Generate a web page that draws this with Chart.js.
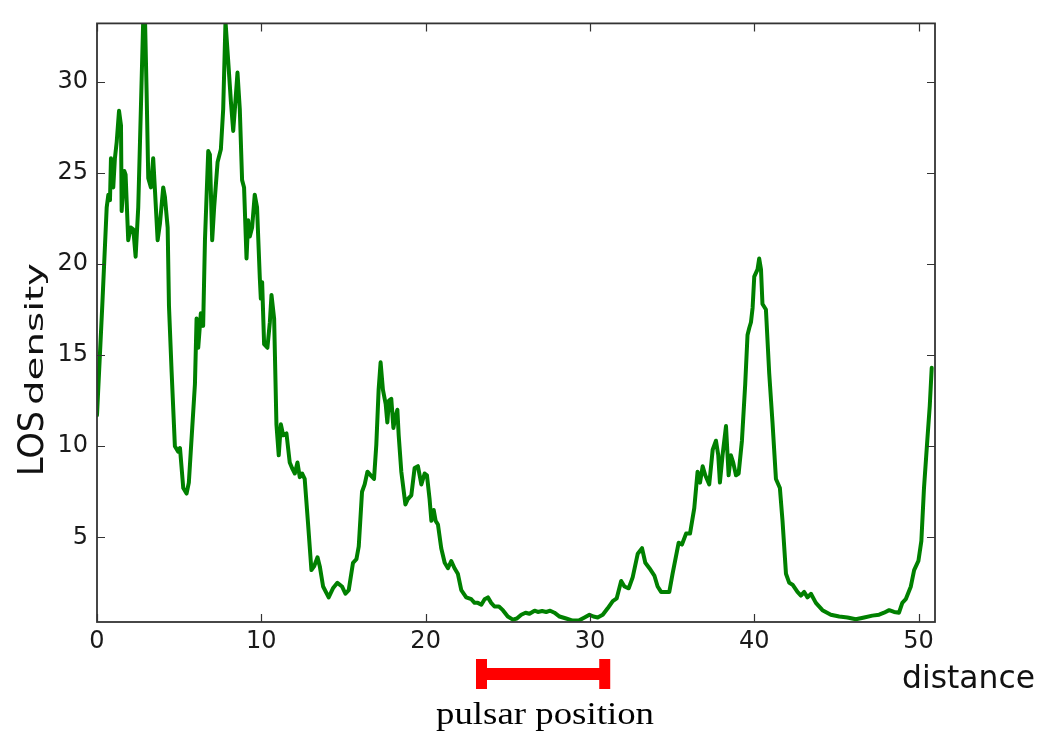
<!DOCTYPE html>
<html>
<head>
<meta charset="utf-8">
<script src="https://cdn.jsdelivr.net/npm/chart.js@4"></script>
<style>
  html, body { margin: 0; padding: 0; background: #ffffff; }
  canvas { display: block; }
</style>
</head>
<body>
<canvas id="c" width="1037" height="733"></canvas>
<script>
// ---- data ----
const distance = [
  0.0, 0.32, 0.59, 0.69, 0.79, 0.85, 0.93, 0.99, 1.09, 1.20, 1.34, 1.46, 1.50, 1.66, 1.74, 1.90,
  2.05, 2.21, 2.35, 2.51, 2.67, 2.81, 2.92, 3.02, 3.12, 3.28, 3.42, 3.53, 3.69, 3.83, 4.03, 4.13,
  4.30, 4.38, 4.54, 4.74, 4.94, 5.05, 5.25, 5.45, 5.59, 5.96, 6.06, 6.16, 6.32, 6.46, 6.57, 6.77,
  6.87, 7.01, 7.13, 7.34, 7.54, 7.68, 7.82, 7.98, 8.15, 8.29, 8.39, 8.55, 8.69, 8.83, 8.95, 9.10,
  9.20, 9.30, 9.44, 9.60, 9.74, 9.91, 9.97, 10.05, 10.17, 10.37, 10.52, 10.62, 10.78, 10.92, 11.06, 11.19,
  11.33, 11.53, 11.73, 11.87, 12.04, 12.20, 12.34, 12.48, 12.64, 12.84, 13.05, 13.21, 13.42, 13.56, 13.76, 14.10,
  14.36, 14.63, 14.91, 15.12, 15.32, 15.58, 15.79, 15.93, 16.13, 16.29, 16.46, 16.66, 16.86, 17.00, 17.14, 17.26,
  17.40, 17.57, 17.67, 17.77, 17.91, 18.04, 18.16, 18.28, 18.36, 18.52, 18.77, 18.92, 19.13, 19.33, 19.53, 19.74,
  19.94, 20.08, 20.24, 20.35, 20.49, 20.61, 20.75, 20.95, 21.16, 21.36, 21.56, 21.76, 21.96, 22.17, 22.47, 22.78,
  22.98, 23.18, 23.39, 23.59, 23.79, 23.99, 24.19, 24.46, 24.70, 25.00, 25.31, 25.55, 25.82, 26.08, 26.32, 26.63,
  26.83, 27.09, 27.34, 27.58, 27.84, 28.15, 28.55, 28.95, 29.32, 29.67, 29.97, 30.21, 30.47, 30.78, 31.08, 31.39,
  31.63, 31.90, 32.10, 32.36, 32.60, 32.91, 33.17, 33.37, 33.62, 33.92, 34.12, 34.33, 34.83, 35.03, 35.40, 35.60,
  35.85, 36.09, 36.35, 36.55, 36.70, 36.86, 37.02, 37.26, 37.47, 37.67, 37.81, 37.91, 38.07, 38.28, 38.44, 38.58,
  38.72, 38.89, 39.05, 39.25, 39.45, 39.59, 39.70, 39.80, 39.90, 40.00, 40.20, 40.30, 40.41, 40.50, 40.71, 40.91,
  41.11, 41.32, 41.56, 41.72, 41.93, 42.13, 42.33, 42.63, 42.84, 43.04, 43.24, 43.45, 43.75, 44.15, 44.66, 45.17,
  45.67, 46.18, 46.69, 47.19, 47.60, 47.90, 48.21, 48.51, 48.81, 49.01, 49.22, 49.53, 49.73, 49.99, 50.17, 50.33,
  50.53, 50.68, 50.80
];
const density = [
  11.7, 17.7, 23.1, 23.8, 23.5, 25.8, 24.9, 24.2, 25.8, 26.7, 28.4, 27.6, 22.9, 25.1, 24.9, 21.3,
  22.0, 21.9, 20.4, 23.1, 28.5, 33.3, 33.5, 29.4, 24.7, 24.2, 25.8, 24.0, 21.3, 22.2, 24.2, 23.7,
  22.0, 17.7, 14.1, 10.0, 9.7, 9.9, 7.7, 7.4, 8.0, 13.4, 17.0, 15.4, 17.3, 16.6, 21.3, 26.2,
  26.0, 21.3, 23.1, 25.6, 26.3, 28.5, 33.3, 31.2, 28.9, 27.3, 28.5, 30.5, 28.5, 24.6, 24.2, 20.3,
  22.4, 21.5, 22.0, 23.8, 23.1, 19.2, 18.1, 19.0, 15.6, 15.4, 16.8, 18.3, 17.0, 11.2, 9.5, 11.2,
  10.6, 10.7, 9.1, 8.8, 8.5, 9.1, 8.3, 8.5, 8.2, 5.8, 3.2, 3.4, 3.9, 3.4, 2.3, 1.7,
  2.2, 2.5, 2.3, 1.9, 2.1, 3.6, 3.8, 4.5, 7.5, 7.9, 8.6, 8.4, 8.2, 10.1, 13.1, 14.6,
  13.1, 12.3, 11.3, 12.5, 12.6, 11.0, 11.6, 12.0, 10.6, 8.6, 6.8, 7.1, 7.3, 8.8, 8.9, 7.9,
  8.5, 8.4, 7.1, 5.9, 6.5, 5.9, 5.7, 4.4, 3.6, 3.3, 3.7, 3.3, 3.0, 2.1, 1.7, 1.6,
  1.4, 1.4, 1.3, 1.6, 1.7, 1.4, 1.2, 1.2, 1.0, 0.65, 0.48, 0.54, 0.75, 0.86, 0.8, 0.97,
  0.9, 0.95, 0.9, 0.97, 0.86, 0.65, 0.54, 0.43, 0.43, 0.6, 0.75, 0.65, 0.6, 0.75, 1.1, 1.5,
  1.65, 2.6, 2.3, 2.2, 2.8, 4.1, 4.4, 3.6, 3.3, 2.9, 2.3, 2.0, 2.0, 3.0, 4.7, 4.6,
  5.2, 5.2, 6.6, 8.6, 8.0, 8.9, 8.4, 7.9, 9.8, 10.3, 9.5, 8.0, 9.5, 11.1, 8.4, 9.5,
  9.1, 8.4, 8.5, 10.3, 13.4, 16.1, 16.5, 16.8, 17.6, 19.3, 19.7, 20.3, 19.7, 17.8, 17.5, 14.0,
  11.3, 8.2, 7.7, 5.9, 3.0, 2.5, 2.4, 2.0, 1.8, 2.0, 1.7, 1.9, 1.4, 1.0, 0.75, 0.65,
  0.6, 0.5, 0.6, 0.7, 0.75, 0.86, 1.0, 0.9, 0.86, 1.4, 1.6, 2.3, 3.2, 3.7, 4.8, 7.7,
  10.3, 12.2, 14.3
];
const xTicks = [0, 10, 20, 30, 40, 50];
const yTicks = [5, 10, 15, 20, 25, 30];
const xRange = [0, 51];
const yRange = [0.35, 33.2];
const pulsarRange = [23.4, 30.9];
const xTitle = "distance";
const yTitleA = "LOS";
const yTitleB = "density";
const pulsarLabel = "pulsar position";

const points = distance.map((d, i) => ({ x: d, y: density[i] }));

// frame, inward ticks and annotations
const decor = {
  id: 'decor',
  afterDatasetsDraw(chart) {
    const ctx = chart.ctx, a = chart.chartArea;
    const xs = chart.scales.x, ys = chart.scales.y;
    ctx.save();
    ctx.strokeStyle = '#333333';
    ctx.lineWidth = 1.2;
    const tl = 8;
    ctx.beginPath();
    xTicks.forEach(v => {
      const px = Math.round(xs.getPixelForValue(v)) + 0.5;
      ctx.moveTo(px, a.bottom); ctx.lineTo(px, a.bottom - tl);
      ctx.moveTo(px, a.top); ctx.lineTo(px, a.top + tl);
    });
    yTicks.forEach(v => {
      const py = Math.round(ys.getPixelForValue(v)) + 0.5;
      ctx.moveTo(a.left, py); ctx.lineTo(a.left + tl, py);
      ctx.moveTo(a.right, py); ctx.lineTo(a.right - tl, py);
    });
    ctx.stroke();
    ctx.lineWidth = 1.8;
    ctx.strokeRect(a.left, a.top, a.right - a.left, a.bottom - a.top);

    // pulsar position bar
    const x0 = xs.getPixelForValue(pulsarRange[0]);
    const x1 = xs.getPixelForValue(pulsarRange[1]);
    ctx.fillStyle = '#ff0000';
    ctx.fillRect(x0 - 5.5, 659, 11, 30);
    ctx.fillRect(x1 - 5.5, 659, 11, 30);
    ctx.fillRect(x0, 668, x1 - x0, 12);

    // pulsar label (serif)
    ctx.fillStyle = '#000000';
    ctx.font = '32px "Liberation Serif", "Times New Roman", serif';
    ctx.textBaseline = 'alphabetic';
    ctx.textAlign = 'left';
    const pw = ctx.measureText(pulsarLabel).width;
    ctx.save();
    ctx.translate(436, 724);
    ctx.scale(218 / pw, 1);
    ctx.fillText(pulsarLabel, 0, 0);
    ctx.restore();

    // x title
    ctx.fillStyle = '#111111';
    ctx.font = '32px "DejaVu Sans", sans-serif';
    const dw = ctx.measureText(xTitle).width;
    ctx.save();
    ctx.translate(902, 688);
    ctx.scale(133 / dw, 1);
    ctx.fillText(xTitle, 0, 0);
    ctx.restore();

    // y title: "LOS" (large) + "density" (smaller), rotated
    ctx.save();
    ctx.translate(43, 476);
    ctx.rotate(-Math.PI / 2);
    ctx.font = '36px "DejaVu Sans", sans-serif';
    const lw = ctx.measureText(yTitleA).width;
    ctx.save();
    ctx.scale(65 / lw, 1);
    ctx.fillText(yTitleA, 0, 0);
    ctx.restore();
    ctx.font = '25px "DejaVu Sans", sans-serif';
    const ddw = ctx.measureText(yTitleB).width;
    ctx.save();
    ctx.translate(71, 0);
    ctx.scale(142 / ddw, 1);
    ctx.fillText(yTitleB, 0, 0);
    ctx.restore();
    ctx.restore();

    ctx.restore();
  }
};

new Chart(document.getElementById('c'), {
  type: 'line',
  data: {
    datasets: [{
      data: points,
      borderColor: '#008000',
      borderWidth: 4,
      pointRadius: 0,
      tension: 0,
      fill: false,
      borderJoinStyle: 'round',
      borderCapStyle: 'round'
    }]
  },
  options: {
    responsive: false,
    animation: false,
    devicePixelRatio: 1,
    layout: { padding: { left: 0, top: 12, right: 102, bottom: 0 } },
    plugins: { legend: { display: false }, tooltip: { enabled: false } },
    scales: {
      x: {
        type: 'linear',
        min: xRange[0], max: xRange[1],
        afterBuildTicks: s => { s.ticks = xTicks.map(v => ({ value: v })); },
        afterFit: s => { s.height = 111; },
        grid: { display: false, drawTicks: false },
        border: { display: false },
        ticks: {
          autoSkip: false, maxRotation: 0, padding: 5,
          color: '#1a1a1a',
          font: { family: 'DejaVu Sans', size: 24 },
          callback: v => String(v)
        }
      },
      y: {
        type: 'linear',
        min: yRange[0], max: yRange[1],
        afterBuildTicks: s => { s.ticks = yTicks.map(v => ({ value: v })); },
        afterFit: s => { s.width = 97; },
        grid: { display: false, drawTicks: false },
        border: { display: false },
        ticks: {
          autoSkip: false, padding: 9,
          color: '#1a1a1a',
          font: { family: 'DejaVu Sans', size: 24 },
          callback: v => String(v)
        }
      }
    }
  },
  plugins: [decor]
});
</script>
</body>
</html>
